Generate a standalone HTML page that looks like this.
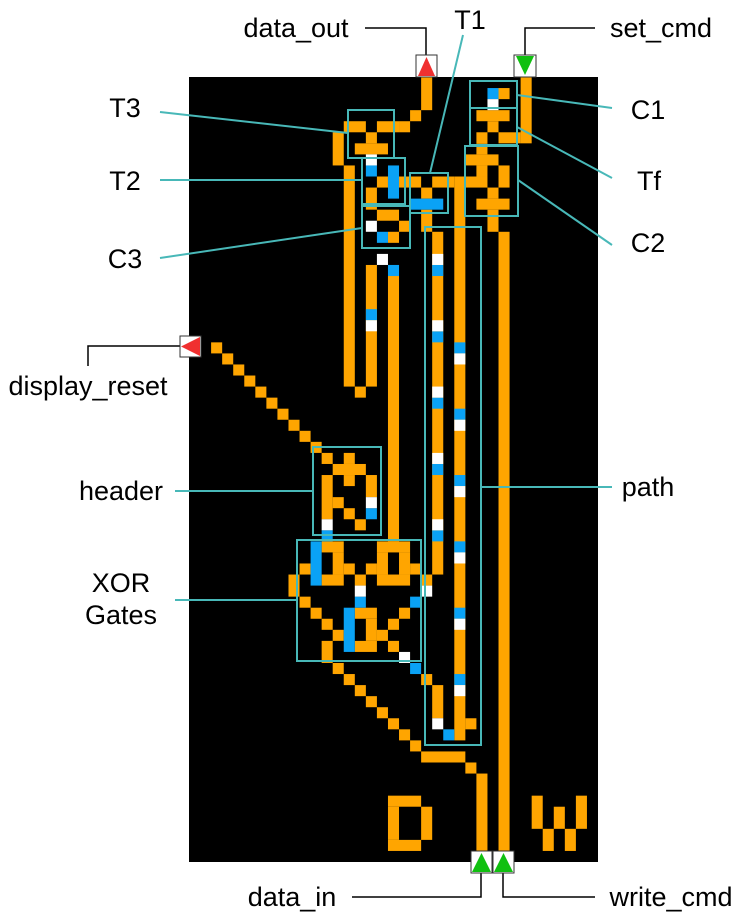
<!DOCTYPE html>
<html><head><meta charset="utf-8"><style>
html,body{margin:0;padding:0;background:#fff;}
svg{display:block;}
text{font-family:"Liberation Sans",Arial,sans-serif;font-size:27px;fill:#000;}
</style></head><body>
<svg width="744" height="922" viewBox="0 0 744 922" xmlns="http://www.w3.org/2000/svg">
<rect x="189" y="77" width="409" height="785" fill="#000"/>
<svg x="189" y="77" width="409" height="785" viewBox="0 0 37 71" preserveAspectRatio="none">
<g fill="#FFA500">
<rect x="21" y="0" width="1" height="3"/><rect x="20" y="3" width="1" height="1"/><rect x="19" y="4" width="1" height="1"/>
<rect x="30" y="0" width="1" height="6"/>
<rect x="28" y="1" width="1" height="1"/>
<rect x="26" y="3" width="3" height="1"/><rect x="27" y="4" width="1" height="1"/>
<rect x="26" y="5" width="1" height="1"/><rect x="28" y="5" width="2" height="1"/>
<rect x="26" y="6" width="1" height="1"/><rect x="25" y="7" width="3" height="1"/>
<rect x="26" y="8" width="1" height="1"/><rect x="28" y="8" width="1" height="2"/>
<rect x="25" y="9" width="2" height="1"/><rect x="27" y="10" width="1" height="1"/>
<rect x="26" y="11" width="3" height="1"/><rect x="27" y="12" width="1" height="2"/>
<rect x="28" y="14" width="1" height="56"/>
<rect x="14" y="4" width="2" height="1"/><rect x="17" y="4" width="2" height="1"/>
<rect x="13" y="5" width="1" height="3"/><rect x="16" y="5" width="1" height="1"/>
<rect x="15" y="6" width="3" height="1"/>
<rect x="14" y="8" width="1" height="20"/><rect x="15" y="28" width="1" height="1"/>
<rect x="16" y="17" width="1" height="11"/>
<rect x="17" y="9" width="1" height="1"/><rect x="19" y="9" width="2" height="1"/>
<rect x="16" y="10" width="1" height="2"/>
<rect x="22" y="9" width="2" height="1"/><rect x="24" y="9" width="1" height="51"/>
<rect x="21" y="10" width="1" height="1"/><rect x="21" y="12" width="1" height="2"/>
<rect x="22" y="14" width="1" height="31"/>
<rect x="17" y="12" width="2" height="1"/><rect x="19" y="13" width="1" height="1"/><rect x="18" y="14" width="1" height="1"/>
<rect x="18" y="18" width="1" height="24"/>
<rect x="2" y="24" width="1" height="1"/><rect x="3" y="25" width="1" height="1"/><rect x="4" y="26" width="1" height="1"/>
<rect x="5" y="27" width="1" height="1"/><rect x="6" y="28" width="1" height="1"/><rect x="7" y="29" width="1" height="1"/>
<rect x="8" y="30" width="1" height="1"/><rect x="9" y="31" width="1" height="1"/><rect x="10" y="32" width="1" height="1"/>
<rect x="11" y="33" width="1" height="1"/><rect x="12" y="34" width="1" height="1"/>
<rect x="14" y="34" width="1" height="1"/><rect x="13" y="35" width="3" height="1"/>
<rect x="12" y="36" width="1" height="4"/><rect x="14" y="36" width="1" height="1"/><rect x="16" y="36" width="1" height="2"/>
<rect x="13" y="38" width="1" height="1"/><rect x="14" y="39" width="1" height="1"/><rect x="15" y="40" width="1" height="1"/>
<rect x="12" y="42" width="2" height="1"/><rect x="13" y="43" width="1" height="2"/><rect x="14" y="44" width="1" height="1"/>
<rect x="12" y="45" width="2" height="1"/><rect x="10" y="44" width="1" height="1"/><rect x="9" y="45" width="1" height="2"/>
<rect x="10" y="47" width="1" height="1"/><rect x="11" y="48" width="1" height="1"/><rect x="12" y="49" width="1" height="1"/>
<rect x="13" y="50" width="1" height="1"/><rect x="12" y="51" width="1" height="2"/><rect x="13" y="53" width="1" height="1"/>
<rect x="14" y="54" width="1" height="1"/><rect x="15" y="55" width="1" height="1"/><rect x="16" y="56" width="1" height="1"/>
<rect x="17" y="57" width="1" height="1"/><rect x="18" y="58" width="1" height="1"/><rect x="19" y="59" width="1" height="1"/>
<rect x="20" y="60" width="1" height="1"/><rect x="21" y="61" width="4" height="1"/><rect x="25" y="62" width="1" height="1"/>
<rect x="26" y="63" width="1" height="7"/>
<rect x="17" y="42" width="3" height="1"/><rect x="17" y="43" width="1" height="2"/><rect x="19" y="43" width="1" height="2"/>
<rect x="17" y="45" width="3" height="1"/><rect x="16" y="44" width="1" height="1"/><rect x="20" y="44" width="1" height="1"/>
<rect x="15" y="45" width="1" height="1"/><rect x="21" y="45" width="1" height="1"/>
<rect x="15" y="48" width="2" height="1"/><rect x="16" y="49" width="1" height="2"/><rect x="17" y="50" width="1" height="1"/>
<rect x="15" y="51" width="2" height="1"/><rect x="19" y="48" width="1" height="1"/><rect x="18" y="49" width="1" height="1"/>
<rect x="18" y="51" width="1" height="1"/><rect x="21" y="54" width="1" height="1"/><rect x="22" y="55" width="1" height="3"/>
<rect x="25" y="58" width="1" height="1"/>
<rect x="18" y="65" width="3" height="1"/><rect x="18" y="66" width="1" height="3"/><rect x="21" y="66" width="1" height="3"/><rect x="18" y="69" width="3" height="1"/>
<rect x="31" y="65" width="1" height="3"/><rect x="33" y="66" width="1" height="2"/><rect x="35" y="65" width="1" height="3"/>
<rect x="32" y="68" width="1" height="2"/><rect x="34" y="68" width="1" height="2"/>
</g>
<g fill="#0AA2F5">
<rect x="27" y="1" width="1" height="1"/><rect x="16" y="8" width="1" height="1"/><rect x="18" y="8" width="1" height="3"/>
<rect x="20" y="11" width="3" height="1"/><rect x="17" y="14" width="1" height="1"/><rect x="18" y="17" width="1" height="1"/>
<rect x="16" y="21" width="1" height="1"/>
<rect x="22" y="17" width="1" height="1"/><rect x="22" y="23" width="1" height="1"/><rect x="22" y="29" width="1" height="1"/><rect x="22" y="35" width="1" height="1"/><rect x="22" y="41" width="1" height="1"/>
<rect x="24" y="24" width="1" height="1"/><rect x="24" y="30" width="1" height="1"/><rect x="24" y="36" width="1" height="1"/><rect x="24" y="42" width="1" height="1"/><rect x="24" y="48" width="1" height="1"/><rect x="24" y="54" width="1" height="1"/>
<rect x="16" y="39" width="1" height="1"/><rect x="12" y="41" width="1" height="1"/>
<rect x="11" y="42" width="1" height="4"/><rect x="15" y="47" width="1" height="1"/><rect x="20" y="47" width="1" height="1"/>
<rect x="14" y="48" width="1" height="4"/><rect x="20" y="53" width="1" height="1"/><rect x="23" y="59" width="1" height="1"/>
</g>
<g fill="#fff">
<rect x="27" y="2" width="1" height="1"/><rect x="16" y="7" width="1" height="1"/><rect x="16" y="13" width="1" height="1"/>
<rect x="17" y="16" width="1" height="1"/><rect x="16" y="22" width="1" height="1"/>
<rect x="22" y="16" width="1" height="1"/><rect x="22" y="22" width="1" height="1"/><rect x="22" y="28" width="1" height="1"/><rect x="22" y="34" width="1" height="1"/><rect x="22" y="40" width="1" height="1"/>
<rect x="24" y="25" width="1" height="1"/><rect x="24" y="31" width="1" height="1"/><rect x="24" y="37" width="1" height="1"/><rect x="24" y="43" width="1" height="1"/><rect x="24" y="49" width="1" height="1"/><rect x="24" y="55" width="1" height="1"/>
<rect x="16" y="38" width="1" height="1"/><rect x="12" y="40" width="1" height="1"/>
<rect x="15" y="46" width="1" height="1"/><rect x="21" y="46" width="1" height="1"/><rect x="19" y="52" width="1" height="1"/><rect x="22" y="58" width="1" height="1"/>
</g>
</svg>
<g fill="none" stroke="#48B8B8" stroke-width="2">
<rect x="348" y="110" width="46" height="48"/>
<rect x="362" y="158" width="43" height="46"/>
<rect x="410" y="173" width="38" height="40"/>
<rect x="362" y="206" width="48" height="42"/>
<rect x="470" y="81" width="47" height="27"/>
<rect x="470" y="108" width="47" height="37"/>
<rect x="465" y="146" width="53" height="70"/>
<rect x="425" y="227" width="56" height="518"/>
<rect x="313" y="447" width="68" height="88"/>
<rect x="297" y="540" width="124" height="121"/>
<line x1="463" y1="35" x2="430" y2="173"/>
<line x1="160" y1="112" x2="348" y2="133"/>
<line x1="160" y1="180" x2="362" y2="180"/>
<line x1="160" y1="258" x2="362" y2="228"/>
<line x1="517" y1="95" x2="612" y2="108"/>
<line x1="517" y1="127" x2="612" y2="178"/>
<line x1="518" y1="180" x2="612" y2="245"/>
<line x1="175" y1="491" x2="313" y2="491"/>
<line x1="175" y1="600" x2="297" y2="600"/>
<line x1="481" y1="487" x2="612" y2="487"/>
</g>
<g fill="none" stroke="#000" stroke-width="1.5">
<polyline points="365,28 426,28 426,55"/>
<polyline points="595,28 525,28 525,55"/>
<polyline points="88,366 88,346 180,346"/>
<polyline points="352,897 481,897 481,873"/>
<polyline points="595,897 503,897 503,873"/>
</g>
<g stroke="#333" stroke-width="1">
<rect x="416" y="55" width="21" height="22" fill="#fff"/>
<polygon points="418,76 426.5,57 435,76" fill="#F03030" stroke="none"/>
<rect x="514" y="55" width="22" height="22" fill="#fff"/>
<polygon points="516,56 534,56 525,75" fill="#10C010" stroke="none"/>
<rect x="180" y="336" width="21" height="21" fill="#fff"/>
<polygon points="200,337 200,356 181,346.5" fill="#F03030" stroke="none"/>
<rect x="471" y="851" width="21" height="22" fill="#fff"/>
<polygon points="472,872 481.5,853 491,872" fill="#10C010" stroke="none"/>
<rect x="493" y="851" width="21" height="22" fill="#fff"/>
<polygon points="494,872 503.5,853 513,872" fill="#10C010" stroke="none"/>
</g>
<text x="296" y="37" text-anchor="middle">data_out</text>
<text x="470" y="29" text-anchor="middle">T1</text>
<text x="661" y="37" text-anchor="middle">set_cmd</text>
<text x="125" y="117" text-anchor="middle">T3</text>
<text x="125" y="190" text-anchor="middle">T2</text>
<text x="125" y="268" text-anchor="middle">C3</text>
<text x="648" y="119" text-anchor="middle">C1</text>
<text x="649" y="190" text-anchor="middle">Tf</text>
<text x="648" y="252" text-anchor="middle">C2</text>
<text x="88" y="395" text-anchor="middle">display_reset</text>
<text x="121" y="500" text-anchor="middle">header</text>
<text x="121" y="592" text-anchor="middle">XOR</text>
<text x="121" y="624" text-anchor="middle">Gates</text>
<text x="648" y="496" text-anchor="middle">path</text>
<text x="292" y="906" text-anchor="middle">data_in</text>
<text x="671" y="906" text-anchor="middle">write_cmd</text>
</svg>
</body></html>
